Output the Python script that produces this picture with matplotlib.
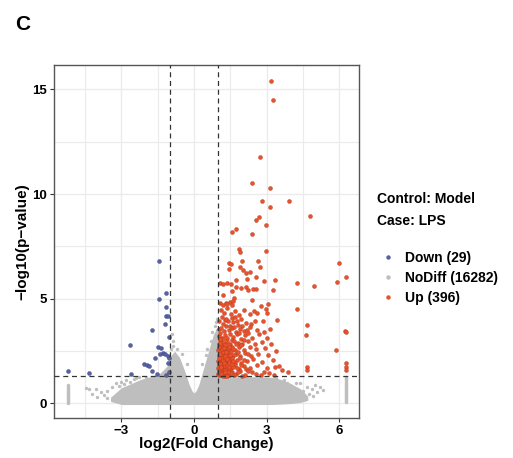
import matplotlib.pyplot as plt
from matplotlib.lines import Line2D

plt.rcParams['font.family'] = ['Liberation Sans', 'DejaVu Sans']
plt.rcParams['font.weight'] = 'bold'

# Down-regulated genes (29)
down_x = [-1.45, -1.14, -1.46, -1.14, -1.16, -1.07, -1.18, -1.75, -2.63, -1.50,
          -1.35, -1.27, -1.20, -1.09, -1.02, -1.61, -1.40, -2.08, -1.95, -1.85,
          -1.74, -1.54, -2.62, -1.14, -5.19, -4.33, -1.02, -1.03, -1.06]
down_y = [6.80, 5.26, 4.98, 4.59, 4.17, 4.19, 3.80, 3.53, 2.77, 2.69,
          2.66, 2.42, 2.34, 2.25, 2.18, 2.16, 2.37, 1.88, 1.82, 1.77,
          1.53, 1.39, 1.40, 1.37, 1.53, 1.46, 3.18, 1.52, 1.91]

# Up-regulated genes (subset)
up_pts = [
    (3.17, 15.41), (3.25, 14.49), (2.74, 11.75), (2.41, 10.54), (3.14, 10.27), (2.82, 9.65),
    (3.94, 9.67), (3.13, 9.39), (4.78, 8.96), (2.70, 8.89), (2.56, 8.74), (2.96, 8.53),
    (1.75, 8.34), (1.58, 8.17), (2.40, 8.10), (1.85, 7.39),
    (1.90, 7.21), (2.96, 7.26), (1.97, 6.78), (2.63, 6.80), (1.43, 6.72), (1.53, 6.66),
    (5.98, 6.70), (2.71, 6.53), (1.43, 6.40), (1.91, 6.50), (2.04, 6.37), (2.31, 6.26),
    (2.14, 6.21), (6.28, 6.03), (2.57, 6.02), (2.19, 5.94), (1.75, 5.89), (3.33, 5.92),
    (2.91, 5.84), (1.07, 5.76), (1.21, 5.70), (1.36, 5.73), (1.52, 5.70), (4.27, 5.73),
    (5.91, 5.81), (4.95, 5.60), (1.74, 5.57), (1.94, 5.51), (2.16, 5.54), (2.44, 5.45),
    (2.55, 5.45), (3.28, 5.41), (1.56, 5.35), (2.24, 5.41), (1.19, 5.16), (1.65, 5.05),
    (2.41, 4.95), (1.31, 4.82), (1.49, 4.85), (1.63, 4.89), (3.05, 4.74), (2.76, 4.65),
    (2.96, 4.50), (3.03, 4.33), (4.24, 4.51), (2.48, 4.41), (3.43, 3.99), (4.66, 3.77),
    (4.64, 3.26), (6.24, 3.45), (6.28, 3.41), (5.88, 2.55), (6.28, 1.91), (6.28, 1.75),
    (6.28, 1.59), (4.66, 1.75), (4.68, 1.62), (3.51, 1.80), (3.65, 1.62), (3.88, 1.51),
    (1.07, 4.78), (1.21, 4.70), (1.35, 4.76), (1.56, 4.70), (1.14, 4.14), (1.28, 3.98),
    (1.42, 3.92), (1.56, 4.06), (1.69, 4.14), (1.76, 3.92),
    (1.10, 4.45), (1.25, 4.32), (1.38, 4.55), (1.52, 4.28), (1.70, 4.40), (1.85, 4.22),
    (2.05, 4.48), (2.30, 4.25), (2.62, 4.30),
    (1.05, 3.95), (1.18, 3.80), (1.33, 4.05), (1.47, 3.72), (1.60, 3.88), (1.82, 3.75),
    (1.95, 4.02), (2.15, 3.85), (2.36, 3.78), (2.85, 3.95), (2.00, 3.70), (2.50, 3.92),
    (1.04, 3.55), (1.12, 3.62), (1.22, 3.45), (1.31, 3.68), (1.45, 3.50), (1.58, 3.60),
    (1.72, 3.42), (1.90, 3.58), (2.08, 3.46), (2.32, 3.64), (2.60, 3.50), (2.90, 3.40),
    (3.15, 3.55), (1.66, 3.66), (2.20, 3.52),
    (1.03, 3.20), (1.09, 3.35), (1.17, 3.12), (1.26, 3.28), (1.36, 3.15), (1.48, 3.32),
    (1.62, 3.18), (1.76, 3.30), (1.93, 3.10), (2.12, 3.25), (2.40, 3.15), (2.70, 3.30),
    (3.00, 3.12), (1.55, 3.05), (1.84, 3.38), (2.25, 3.38),
    (1.02, 2.85), (1.07, 3.02), (1.13, 2.92), (1.20, 3.06), (1.29, 2.88), (1.38, 2.98),
    (1.50, 2.84), (1.64, 3.00), (1.80, 2.90), (1.98, 2.82), (2.22, 2.96), (2.50, 2.86),
    (2.80, 2.95), (3.20, 2.82), (1.44, 2.80), (1.72, 2.82), (2.08, 3.04),
    (1.01, 2.55), (1.05, 2.72), (1.11, 2.60), (1.17, 2.76), (1.24, 2.52), (1.32, 2.66),
    (1.42, 2.58), (1.55, 2.70), (1.70, 2.56), (1.86, 2.68), (2.05, 2.54), (2.30, 2.72),
    (2.58, 2.60), (2.95, 2.66), (3.40, 2.52), (1.28, 2.78), (1.48, 2.50), (1.62, 2.62),
    (1.95, 2.78),
    (1.02, 2.30), (1.06, 2.45), (1.10, 2.22), (1.15, 2.38), (1.21, 2.26), (1.28, 2.44),
    (1.36, 2.32), (1.46, 2.40), (1.58, 2.24), (1.73, 2.36), (1.90, 2.28), (2.10, 2.42),
    (2.35, 2.25), (2.65, 2.38), (3.05, 2.30), (1.18, 2.48), (1.40, 2.20), (1.52, 2.46),
    (1.65, 2.30), (1.82, 2.46), (2.22, 2.34),
    (1.01, 2.05), (1.04, 1.92), (1.08, 2.15), (1.12, 1.98), (1.17, 2.10), (1.23, 1.94),
    (1.30, 2.06), (1.39, 1.96), (1.50, 2.12), (1.63, 1.98), (1.78, 2.08), (1.96, 1.94),
    (2.18, 2.02), (2.45, 2.14), (2.80, 1.96), (3.25, 2.08), (1.14, 2.18), (1.26, 2.16),
    (1.34, 1.90), (1.45, 2.02), (1.57, 2.16), (1.70, 1.92), (1.88, 2.16), (2.05, 2.10),
    (1.01, 1.70), (1.03, 1.85), (1.06, 1.62), (1.10, 1.78), (1.14, 1.66), (1.19, 1.84),
    (1.25, 1.72), (1.33, 1.64), (1.42, 1.80), (1.54, 1.68), (1.68, 1.82), (1.85, 1.66),
    (2.05, 1.78), (2.30, 1.70), (2.60, 1.84), (3.00, 1.68), (3.35, 1.76), (1.08, 1.88),
    (1.16, 1.60), (1.22, 1.90), (1.29, 1.80), (1.37, 1.74), (1.48, 1.62), (1.60, 1.76),
    (1.76, 1.70), (1.95, 1.86), (2.15, 1.64),
    (1.01, 1.40), (1.03, 1.52), (1.05, 1.34), (1.08, 1.46), (1.12, 1.38), (1.16, 1.55),
    (1.21, 1.42), (1.27, 1.33), (1.35, 1.48), (1.45, 1.36), (1.57, 1.50), (1.72, 1.40),
    (1.90, 1.54), (2.12, 1.38), (2.40, 1.48), (2.75, 1.36), (3.10, 1.44), (1.10, 1.58),
    (1.19, 1.32), (1.24, 1.56), (1.31, 1.40), (1.40, 1.58), (1.51, 1.44), (1.64, 1.34),
    (1.80, 1.48), (2.00, 1.32), (2.25, 1.56), (2.55, 1.42), (2.90, 1.52), (3.30, 1.34),
    (1.02, 1.62), (1.04, 2.18), (1.07, 2.38), (1.09, 1.52), (1.11, 2.84), (1.13, 1.75),
    (1.15, 2.58), (1.18, 1.45), (1.20, 2.02), (1.22, 2.64), (1.25, 1.95), (1.27, 2.28),
    (1.30, 1.58), (1.33, 2.48), (1.36, 1.85), (1.38, 2.12), (1.41, 1.50), (1.43, 2.70),
    (1.46, 1.72), (1.49, 2.30), (1.03, 2.68), (1.06, 2.90), (1.09, 3.10), (1.05, 1.45),
    (1.13, 1.42), (1.26, 1.50), (1.35, 1.32), (1.44, 1.92), (1.55, 1.88), (1.60, 2.05),
]
up_x = [p[0] for p in up_pts]
up_y = [p[1] for p in up_pts]

# NoDiff genes: dense core as an envelope, sparse edge points listed
nodiff_env_x = [-3.45, -3.2, -3.0, -2.6, -2.2, -1.8, -1.4, -1.1, -0.95, -0.8, -0.6, -0.4,
                -0.2, -0.08, 0.0, 0.08, 0.2, 0.4, 0.6, 0.8, 0.95, 0.99, 1.01, 1.5, 2.5,
                3.2, 3.6, 4.0, 4.4, 4.7]
nodiff_env_top = [0.3, 0.55, 0.75, 0.95, 1.15, 1.28, 1.45, 1.8, 2.3, 2.5, 2.2, 1.6,
                  0.9, 0.6, 0.5, 0.6, 0.9, 1.7, 2.5, 3.3, 3.6, 3.6, 1.28, 1.28, 1.28,
                  1.25, 1.15, 0.95, 0.7, 0.35]
nodiff_env_bot = [0.1, 0.02, -0.05, -0.05, -0.05, -0.05, -0.05, -0.05, -0.05, -0.05, -0.05, -0.05,
                  -0.05, -0.05, -0.05, -0.05, -0.05, -0.05, -0.05, -0.05, -0.05, -0.05, -0.05, -0.05, -0.05,
                  -0.05, -0.03, 0.0, 0.05, 0.15]
nodiff_pts = [
    (-4.48, 0.76), (-4.34, 0.67), (-4.06, 0.67), (-3.86, 0.56), (-4.00, 0.32), (-3.72, 0.40),
    (-3.58, 0.60), (-3.24, 0.96), (-3.03, 1.03), (-2.82, 1.11), (-2.48, 1.15), (-2.27, 1.27),
    (-3.40, 0.78), (-3.10, 0.85), (-2.90, 0.95), (-2.65, 1.05), (-2.40, 1.22), (-2.00, 1.25),
    (-1.70, 1.25), (-1.30, 1.28), (-3.60, 0.25), (-3.30, 0.15), (-4.20, 0.45),
    (-0.92, 3.30), (-0.88, 3.00), (-0.85, 2.75), (-0.95, 2.60), (-0.70, 2.60), (-0.50, 2.35),
    (-0.30, 1.90), (0.35, 1.90), (0.50, 2.30), (0.70, 3.00), (0.85, 3.70), (0.90, 3.90),
    (0.97, 4.05), (0.93, 3.50), (0.75, 3.40), (0.55, 2.60),
    (3.40, 1.20), (3.70, 1.10), (3.97, 0.87), (4.38, 0.96), (4.66, 0.79), (4.86, 0.67),
    (5.00, 0.87), (5.21, 0.80), (5.34, 0.64), (4.20, 1.00), (4.50, 0.60), (4.10, 0.75),
    (3.85, 1.00), (4.75, 0.45), (5.10, 0.55), (4.90, 0.35), (4.60, 0.25),
]
nodiff_x = [p[0] for p in nodiff_pts]
nodiff_y = [p[1] for p in nodiff_pts]

# clipped fold changes stacked at the axis extremes
left_col_y = [0.0, 0.05, 0.1, 0.15, 0.2, 0.25, 0.3, 0.35, 0.4, 0.45, 0.5, 0.55, 0.6, 0.65, 0.7, 0.75, 0.8, 0.85, 0.9]
right_col_y = [0.05, 0.1, 0.15, 0.2, 0.25, 0.3, 0.35, 0.4, 0.45, 0.5, 0.55, 0.6, 0.65, 0.7, 0.75,
               0.8, 0.85, 0.9, 0.95, 1.0, 1.05, 1.1, 1.15, 1.2, 1.25]

grey = '#BEBEBE'
red = '#E8532C'
blue = '#5662A6'

fig = plt.figure(figsize=(5.13, 4.58), dpi=100)
ax = fig.add_axes([0.105, 0.087, 0.595, 0.771])

ax.fill_between(nodiff_env_x, nodiff_env_bot, nodiff_env_top, color=grey, lw=0, zorder=2)
ax.scatter(nodiff_x, nodiff_y, s=6, color=grey, lw=0, zorder=2)
ax.scatter([-5.2] * len(left_col_y), left_col_y, s=6, color=grey, lw=0, zorder=2)
ax.scatter([6.28] * len(right_col_y), right_col_y, s=6, color=grey, lw=0, zorder=2)
ax.scatter(down_x, down_y, s=8, color=blue, edgecolor='#3A437E', lw=0.3, zorder=3)
ax.scatter(up_x, up_y, s=8, color=red, edgecolor='#B8381A', lw=0.3, zorder=3)

for xv in (-1, 1):
    ax.axvline(xv, color='#333333', lw=0.9, ls=(0, (4, 3)), zorder=4)
ax.axhline(1.301, color='#333333', lw=0.9, ls=(0, (4, 3)), zorder=4)

ax.set_xlim(-5.79, 6.82)
ax.set_ylim(-0.7, 16.16)
ax.set_xticks([-3, 0, 3, 6])
ax.set_xticklabels(['\u22123', '0', '3', '6'])
ax.set_yticks([0, 5, 10, 15])
ax.set_xticks([-4.5, -1.5, 1.5, 4.5], minor=True)
ax.set_yticks([2.5, 7.5, 12.5], minor=True)
ax.grid(True, which='major', color='#EBEBEB', lw=1.0, zorder=0)
ax.grid(True, which='minor', color='#EBEBEB', lw=0.8, zorder=0)
ax.set_axisbelow(True)
ax.tick_params(which='minor', length=0)
ax.tick_params(which='major', length=3, width=0.8, color='#333333', labelsize=9.5,
               labelcolor='black', pad=2)
for lab in ax.get_xticklabels() + ax.get_yticklabels():
    lab.set_fontweight('bold')
for sp in ax.spines.values():
    sp.set_color('#555555')
    sp.set_linewidth(1.0)

ax.set_xlabel('log2(Fold Change)', fontsize=11, fontweight='bold', labelpad=0)
ax.set_ylabel('\u2212log10(p\u2212value)', fontsize=11, fontweight='bold', labelpad=2)

fig.text(0.03, 0.934, 'C', fontsize=15, fontweight='bold', ha='left', va='baseline')

fig.text(0.735, 0.565, 'Control: Model', fontsize=10, fontweight='bold', va='center')
fig.text(0.735, 0.517, 'Case: LPS', fontsize=10, fontweight='bold', va='center')

handles = [
    Line2D([], [], ls='', marker='o', ms=2.2, color=blue, label='Down (29)'),
    Line2D([], [], ls='', marker='o', ms=2.2, color=grey, label='NoDiff (16282)'),
    Line2D([], [], ls='', marker='o', ms=2.2, color=red, label='Up (396)'),
]
fig.legend(handles=handles, loc='upper left', bbox_to_anchor=(0.725, 0.465),
           frameon=False, prop={'size': 10, 'weight': 'bold'}, handletextpad=0.5,
           labelspacing=0.45, borderaxespad=0, handlelength=1.5)

fig.savefig('out.png', dpi=100)
